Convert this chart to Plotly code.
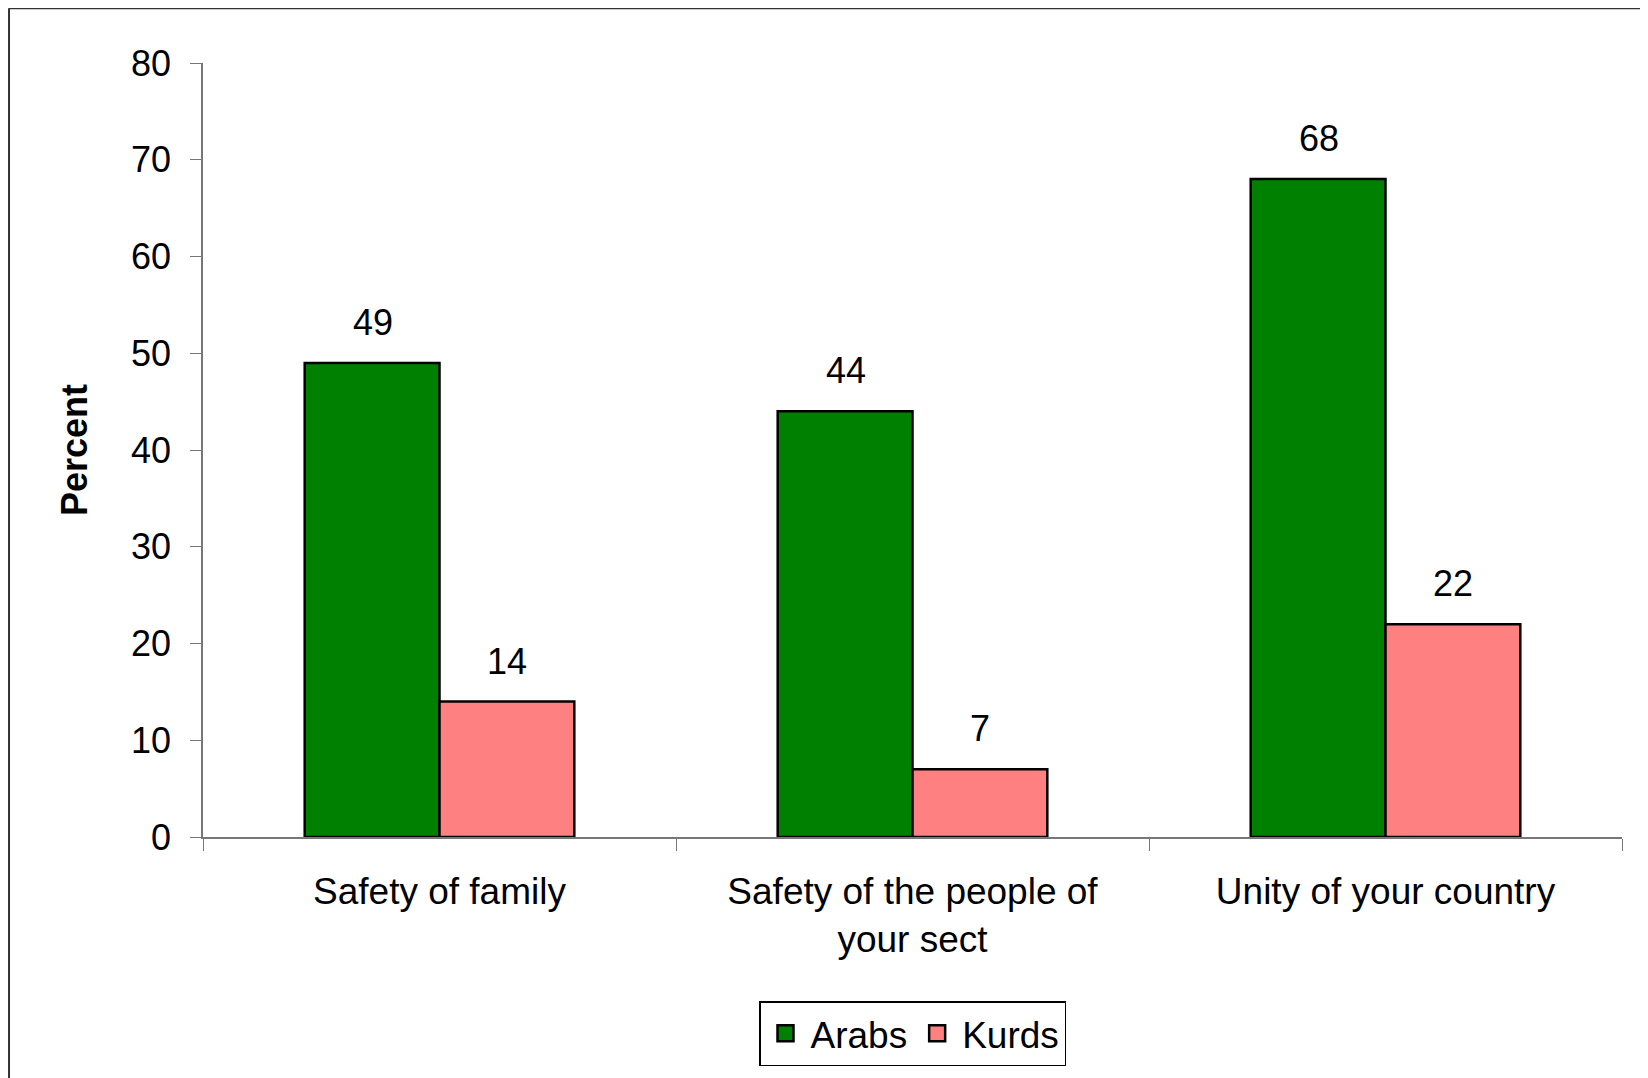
import plotly.graph_objects as go

categories = ["Safety of family", "Safety of the people of<br>your sect", "Unity of your country"]
arabs = [49, 44, 68]
kurds = [14, 7, 22]
series_names = ["Arabs", "Kurds"]
y_ticks = [0, 10, 20, 30, 40, 50, 60, 70, 80]

FONT = "Liberation Sans, Arial, sans-serif"
colors = ["#008000", "#FF8080"]

fig = go.Figure()
for name, vals, col in zip(series_names, [arabs, kurds], colors):
    fig.add_trace(go.Bar(
        name=name, x=categories, y=vals, showlegend=False, legendgroup=name,
        marker=dict(color=col, line=dict(color="black", width=2.5)),
    ))
# legend entries with larger square swatches
for name, col in zip(series_names, colors):
    fig.add_trace(go.Scatter(
        name=name, x=[None], y=[None], mode="markers", legendgroup=name,
        marker=dict(symbol="square", size=20, color=col, line=dict(color="black", width=2.5)),
    ))

# data labels above bars
for vals, xs in zip([arabs, kurds], [-67, 67]):
    for c, v in zip(categories, vals):
        fig.add_annotation(x=c, y=v, text=str(v), showarrow=False,
                           xshift=xs, yshift=18, yanchor="bottom",
                           font=dict(size=36, color="black", family=FONT))

# outer frame (top and left edges visible)
fig.add_shape(type="line", xref="paper", yref="paper",
              x0=-0.1367, x1=1.05, y0=1.0706, y1=1.0706,
              line=dict(color="#333333", width=2))
fig.add_shape(type="line", xref="paper", yref="paper",
              x0=-0.1367, x1=-0.1367, y0=1.0706, y1=-0.4,
              line=dict(color="#333333", width=2))

fig.update_layout(
    width=1640, height=1070,
    margin=dict(l=195, r=26, t=55, b=234),
    paper_bgcolor="white", plot_bgcolor="white",
    barmode="group", bargap=0.43, bargroupgap=0,
    font=dict(family=FONT, size=36, color="black"),
    showlegend=True,
    legend=dict(orientation="h", x=0.5, xanchor="center", y=-0.212, yanchor="top",
                bordercolor="black", borderwidth=1.5, font=dict(size=37),
                itemsizing="trace", traceorder="normal", itemwidth=40),
)
fig.update_xaxes(
    type="category", tickson="boundaries", ticks="outside", ticklen=12,
    tickcolor="#777777", showline=True, linecolor="#777777", linewidth=1.5,
    showgrid=False, tickfont=dict(size=37), ticklabelstandoff=21,
)
fig.update_yaxes(
    range=[0, 80], tickvals=y_ticks, ticks="outside", ticklen=11,
    tickcolor="#777777", showline=True, linecolor="#777777", linewidth=1.5,
    showgrid=False, zeroline=False, tickfont=dict(size=36), ticklabelstandoff=12,
    title=dict(text="<b>Percent</b>", font=dict(size=36), standoff=32),
)

fig.write_html("out.html")
